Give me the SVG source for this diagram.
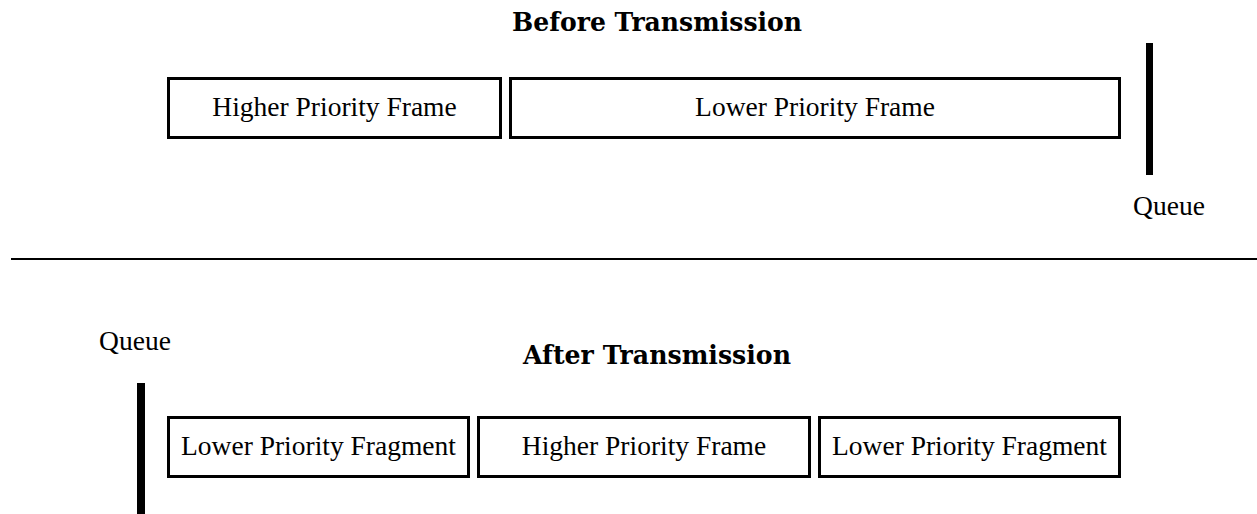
<svg xmlns="http://www.w3.org/2000/svg" width="1257" height="514" viewBox="0 0 1257 514">
  <style>
    .box { fill: #ffffff; stroke: #000000; stroke-width: 3; }
    .lbl { font-family: "Liberation Serif", "Times New Roman", serif; font-size: 27.5px; fill: #000000; text-anchor: middle; }
    .ttl { font-family: "DejaVu Serif", "Liberation Serif", serif; font-weight: bold; font-size: 26px; fill: #000000; text-anchor: middle; }
    .bar { fill: #000000; }
  </style>
  <rect width="1257" height="514" fill="#ffffff"/>

  <text class="ttl" x="657" y="31" textLength="290" lengthAdjust="spacingAndGlyphs">Before Transmission</text>

  <g id="before-higher">
    <rect class="box" x="168.5" y="78.5" width="332" height="59"/>
    <text class="lbl" x="334.5" y="116">Higher Priority Frame</text>
  </g>
  <g id="before-lower">
    <rect class="box" x="510.5" y="78.5" width="609" height="59"/>
    <text class="lbl" x="815" y="116">Lower Priority Frame</text>
  </g>
  <g id="queue-top">
    <rect class="bar" x="1146" y="43" width="7" height="132"/>
    <text class="lbl" x="1169" y="215">Queue</text>
  </g>

  <g id="connectors">
    <line x1="11" y1="259" x2="1257" y2="259" stroke="#000000" stroke-width="2"/>
  </g>

  <g id="queue-bottom">
    <text class="lbl" x="135" y="350">Queue</text>
    <rect class="bar" x="137" y="383" width="8" height="131"/>
  </g>

  <text class="ttl" x="657" y="364" textLength="268" lengthAdjust="spacingAndGlyphs">After Transmission</text>

  <g id="after-lower-1">
    <rect class="box" x="168.5" y="417.5" width="300" height="59"/>
    <text class="lbl" x="318.5" y="455">Lower Priority Fragment</text>
  </g>
  <g id="after-higher">
    <rect class="box" x="478.5" y="417.5" width="331" height="59"/>
    <text class="lbl" x="644" y="455">Higher Priority Frame</text>
  </g>
  <g id="after-lower-2">
    <rect class="box" x="819.5" y="417.5" width="300" height="59"/>
    <text class="lbl" x="969.5" y="455">Lower Priority Fragment</text>
  </g>
</svg>
